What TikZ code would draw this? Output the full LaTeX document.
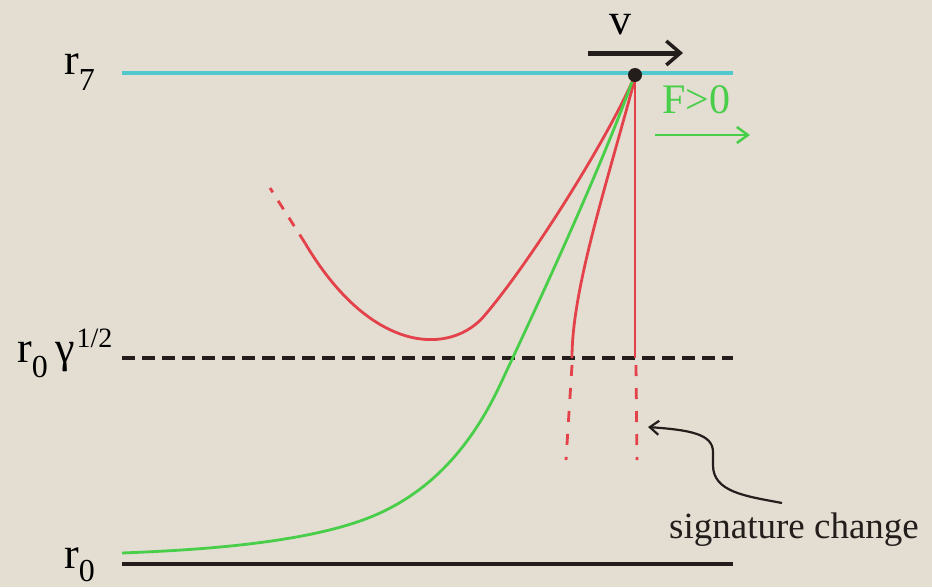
\documentclass[tikz,border=0pt]{standalone}
\usepackage{fontspec}
\setmainfont{Liberation Serif}
\usetikzlibrary{arrows.meta}
\definecolor{corfundo}{RGB}{227,221,210}
\definecolor{corciano}{RGB}{80,200,205}
\definecolor{corvermelho}{RGB}{228,66,74}
\definecolor{corverde}{RGB}{72,206,72}
\definecolor{corpreto}{RGB}{35,30,28}

\begin{document}
\begin{tikzpicture}[x=1pt, y=-1pt,
  nivel/.style={line width=3.2pt},
  ramo/.style={line width=2.8pt, color=corvermelho},
  ramotrac/.style={ramo, dash pattern=on 11pt off 12pt},
  rotulo/.style={font=\fontsize{44}{44}\selectfont, inner sep=0pt, anchor=base west},
  seta/.style={-{Straight Barb[length=14pt, width=24pt, line width=3.5pt]}}
]
  \fill[corfundo] (0,0) rectangle (932,587);
  \useasboundingbox (0,0) rectangle (932,587);

  % niveis
  \coordinate (ponto) at (635,75);
  \draw[nivel, corciano] (122,73) -- (733,73);
  \draw[nivel, corpreto, dash pattern=on 13pt off 7pt] (122,358) -- (733,358);
  \draw[nivel, corpreto] (122,564) -- (733,564);

  \node[rotulo] (r7) at (64,74) {r\raisebox{-16pt}{\fontsize{32}{32}\selectfont 7}};
  \node[rotulo] (rgama) at (17,362) {r\raisebox{-15pt}{\fontsize{32}{32}\selectfont 0}\,γ\kern2pt\raisebox{15pt}{\fontsize{28}{28}\selectfont 1/2}};
  \node[rotulo] (r0) at (64,568) {r\raisebox{-13pt}{\fontsize{32}{32}\selectfont 0}};

  % ramos
  \draw[ramo] (633,80) .. controls (604,145) and (530,262) .. (485,315)
    .. controls (452,355) and (372,356) .. (305,243);
  \draw[ramo, dash pattern=on 10pt off 10pt] (305,243) -- (270,188);
  \draw[ramo] (634,82) .. controls (605,190) and (572,290) .. (572,358);
  \draw[ramotrac] (572,365) -- (566,460);
  \draw[ramo] (635,80) -- (635,358);
  \draw[ramotrac] (636,365) -- (637,460);
  \draw[line width=2.8pt, corverde] (632,82) .. controls (600,170) and (540,300) .. (500,385)
    .. controls (470,449) and (430,490) .. (380,513)
    .. controls (315,543) and (200,550) .. (122,553);

  \fill[corpreto] (ponto) circle (7pt);

  % velocidade e forca
  \coordinate (vini) at (588,53);
  \coordinate (vfim) at (683,53);
  \draw[seta, line width=5pt, corpreto] (vini) -- (vfim);
  \node[rotulo, anchor=base] (v) at (620,34) {v};

  \coordinate (fini) at (655,135);
  \coordinate (ffim) at (750,135);
  \draw[-{Straight Barb[length=11pt, width=16pt, line width=2.5pt]}, line width=2.5pt, corverde] (fini) -- (ffim);
  \node[rotulo, font=\fontsize{42}{42}\selectfont, text=corverde] (forca) at (662,113) {F>0};

  % mudanca de assinatura
  \coordinate (sigrabo) at (782,503);
  \coordinate (sigponta) at (648,427);
  \draw[line width=2.2pt, corpreto, -{Straight Barb[length=9pt, width=14pt, line width=2.2pt]}]
    (sigrabo) .. controls (745,496) and (713,492) .. (713,465) -- (713,452)
    .. controls (713,434) and (690,430) .. (sigponta);
  \node[rotulo, font=\fontsize{37}{37}\selectfont, text=corpreto] (sig) at (669,538) {signature change};
\end{tikzpicture}
\end{document}
